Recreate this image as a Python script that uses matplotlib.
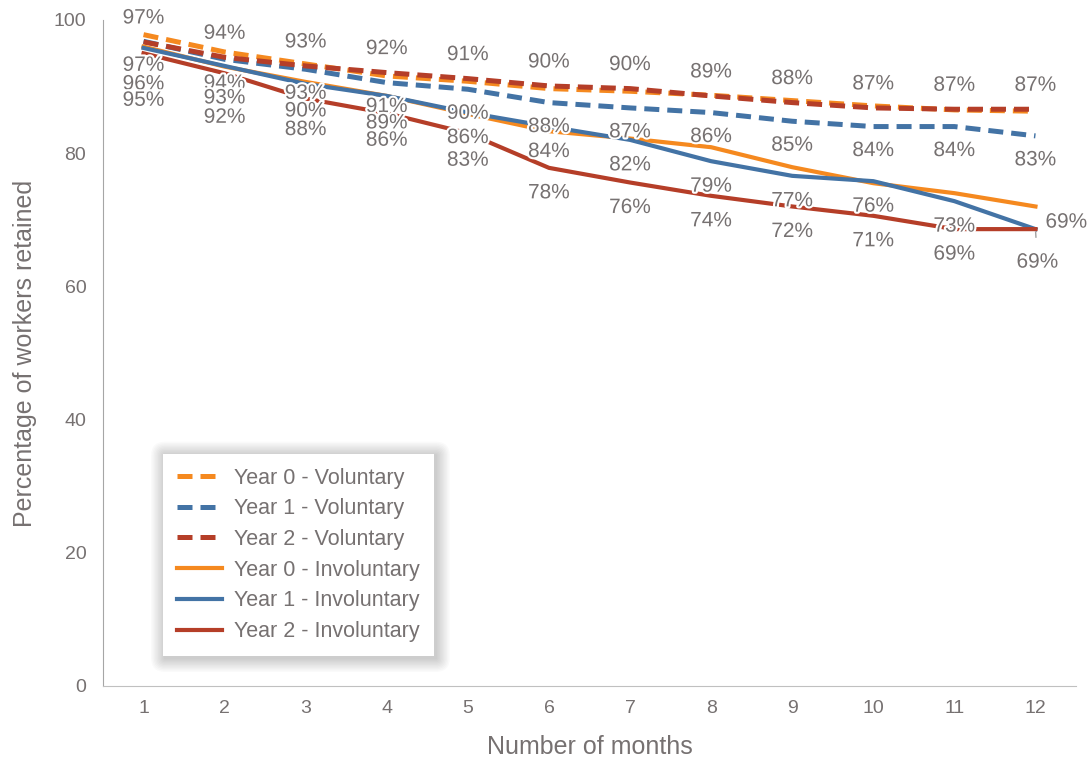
import matplotlib
matplotlib.use("Agg")
import matplotlib.pyplot as plt
import matplotlib.patheffects as pe
from matplotlib.patches import FancyBboxPatch

plt.rcParams["font.family"] = ["Liberation Sans", "DejaVu Sans"]

# retention by month since hire, percent of workers still employed
months = list(range(1, 13))
year0_vol = [97.8, 95.2, 93.4, 91.6, 90.8, 89.7, 89.3, 88.7, 87.9, 87.1, 86.5, 86.3]
year1_vol = [96.8, 94.1, 92.6, 90.6, 89.6, 87.6, 86.8, 86.1, 84.8, 84.0, 84.0, 82.6]
year2_vol = [96.7, 94.4, 93.1, 92.1, 91.2, 90.1, 89.7, 88.6, 87.6, 86.8, 86.6, 86.6]
year0_inv = [96.0, 93.0, 90.7, 88.6, 85.9, 83.3, 82.2, 80.9, 77.9, 75.5, 74.0, 72.0]
year1_inv = [95.8, 93.1, 90.4, 88.6, 86.1, 84.0, 82.0, 78.8, 76.6, 75.8, 72.8, 68.6]
year2_inv = [95.0, 92.0, 88.2, 86.0, 83.0, 77.8, 75.6, 73.6, 72.0, 70.6, 68.6, 68.6]
y_ticks = [0, 20, 40, 60, 80, 100]

ORANGE = "#f5891f"
BLUE = "#4373a5"
RED = "#b53e28"
TEXT = "#767171"

series = [
    ("Year 0 - Voluntary", year0_vol, ORANGE, "--"),
    ("Year 1 - Voluntary", year1_vol, BLUE, "--"),
    ("Year 2 - Voluntary", year2_vol, RED, "--"),
    ("Year 0 - Involuntary", year0_inv, ORANGE, "-"),
    ("Year 1 - Involuntary", year1_inv, BLUE, "-"),
    ("Year 2 - Involuntary", year2_inv, RED, "-"),
]

fig = plt.figure(figsize=(10.92, 7.61), dpi=100)
ax = fig.add_axes([103 / 1092, 75 / 761, 973 / 1092, 666 / 761])

for label, vals, color, ls in series:
    if ls == "--":
        ax.plot(months, vals, color=color, lw=3.6, linestyle=(0, (3, 1.6)),
                label=label, solid_capstyle="butt", dash_capstyle="butt")
    else:
        ax.plot(months, vals, color=color, lw=3.0, label=label,
                solid_joinstyle="round")

halo = [pe.withStroke(linewidth=3, foreground="white")]


def put_labels(vals, dy, overrides=None, skip_last=False):
    overrides = overrides or {}
    for i, (m, v) in enumerate(zip(months, vals)):
        if skip_last and i == len(vals) - 1:
            continue
        off = overrides.get(m, dy)
        ax.annotate(f"{round(v)}%", (m, v), xytext=(0, -off),
                    textcoords="offset pixels", ha="center", va="center",
                    fontsize=15, color=TEXT, path_effects=halo, zorder=6)


put_labels(year2_vol, -24)
put_labels(year1_vol, 24)
put_labels(year1_inv, 25, {1: 36, 2: 32, 3: 27, 4: 27}, skip_last=True)
put_labels(year2_inv, 25, {1: 47, 2: 44, 3: 31, 4: 27, 5: 27}, skip_last=True)

# last month: one label pushed right, one pulled down with a leader line
ax.annotate(f"{round(year1_inv[-1])}%", (months[-1], year1_inv[-1]),
            xytext=(10, 7), textcoords="offset pixels", ha="left", va="center",
            fontsize=15, color=TEXT, path_effects=halo, zorder=6)
ax.annotate(f"{round(year2_inv[-1])}%", (months[-1], year2_inv[-1]),
            xytext=(2, -33), textcoords="offset pixels", ha="center", va="center",
            fontsize=15, color=TEXT, path_effects=halo, zorder=6,
            arrowprops=dict(arrowstyle="-", color="#a0a0a0", lw=1,
                            shrinkA=9, shrinkB=2))

ax.set_xlim(0.5, 12.5)
ax.set_ylim(0, 100)
ax.set_xticks(months)
ax.set_yticks(y_ticks)
ax.tick_params(length=0, labelsize=14, colors=TEXT)
ax.tick_params(axis="y", pad=12)
ax.tick_params(axis="x", pad=10)
for side in ("top", "right"):
    ax.spines[side].set_visible(False)
ax.spines["left"].set_color("#a6a6a6")
ax.spines["bottom"].set_color("#c0c0c0")
ax.set_xlabel("Number of months", fontsize=18, color=TEXT, labelpad=13)
ax.set_ylabel("Percentage of workers retained", fontsize=18, color=TEXT, labelpad=12)

leg = ax.legend(loc="lower left", bbox_to_anchor=(0.0617, 0.045), borderaxespad=0,
                frameon=True, fancybox=False, fontsize=15.5, labelcolor=TEXT,
                handlelength=2.1, handletextpad=0.55, labelspacing=0.45,
                borderpad=0.65, framealpha=1, facecolor="white")
leg.get_frame().set_edgecolor("white")
leg.get_frame().set_linewidth(0)
leg.set_zorder(10)

# soft drop shadow behind the legend box
fig.canvas.draw()
bb = leg.get_window_extent()
for k in range(10, 0, -1):
    grow = k * 1.4
    ax.add_patch(FancyBboxPatch((bb.x0 - grow + 2, bb.y0 - grow - 2),
                                bb.width + 2 * grow, bb.height + 2 * grow,
                                boxstyle="round,pad=0,rounding_size=%g" % grow,
                                transform=None, facecolor="black", edgecolor="none",
                                alpha=0.018, zorder=9, clip_on=False))

fig.savefig("out.png", dpi=100)
